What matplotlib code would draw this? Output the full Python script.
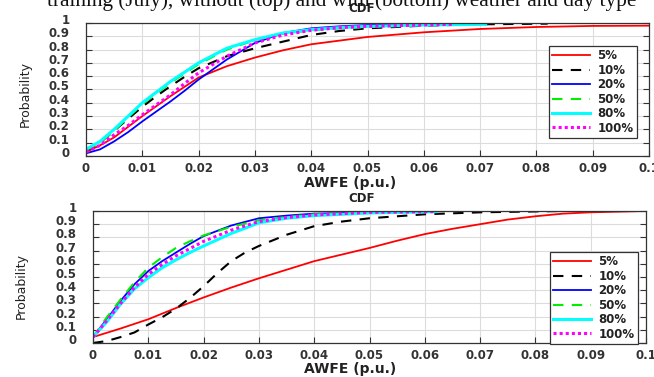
import matplotlib
matplotlib.use("Agg")
import matplotlib.pyplot as plt
from matplotlib.transforms import ScaledTranslation

labels = ["5%", "10%", "20%", "50%", "80%", "100%"]
colors = ["#ff0000", "#000000", "#0000ff", "#00ee00", "#00ffff", "#ff00ff"]

# Top panel (without weather and day type)
top_x = {
    "5%":   [0, .0025, .005, .0075, .01, .0125, .015, .0175, .02, .025, .03, .035, .04, .05, .06, .07, .08, .09, .1],
    "10%":  [0, .0025, .005, .0075, .01, .0125, .015, .0175, .02, .025, .03, .035, .04, .045, .05, .06, .07, .082],
    "20%":  [0, .0025, .005, .0075, .01, .0125, .015, .0175, .02, .025, .03, .035, .04, .045, .05, .06],
    "50%":  [0, .0025, .005, .0075, .01, .0125, .015, .0175, .02, .025, .03, .035, .04, .045, .05, .06, .07],
    "80%":  [0, .0025, .005, .0075, .01, .0125, .015, .0175, .02, .025, .03, .035, .04, .045, .05, .06, .071],
    "100%": [0, .0025, .005, .0075, .01, .0125, .015, .0175, .02, .025, .03, .035, .04, .045, .05, .065],
}
top_y = {
    "5%":   [.03, .08, .14, .22, .30, .375, .45, .52, .59, .675, .74, .795, .84, .895, .93, .955, .97, .978, .98],
    "10%":  [.04, .10, .19, .28, .37, .45, .525, .595, .66, .75, .81, .86, .91, .94, .96, .98, .99, .995],
    "20%":  [.02, .05, .11, .18, .26, .335, .41, .49, .575, .725, .85, .925, .96, .975, .985, .99],
    "50%":  [.045, .10, .19, .29, .39, .47, .55, .62, .69, .80, .87, .92, .945, .96, .97, .985, .99],
    "80%":  [.05, .11, .20, .30, .40, .48, .56, .63, .70, .81, .875, .925, .95, .965, .975, .985, .99],
    "100%": [.03, .08, .16, .23, .31, .385, .46, .545, .625, .75, .85, .91, .945, .965, .975, .99],
}

# Bottom panel (with weather and day type)
bot_x = {
    "5%":   [0, .005, .01, .015, .02, .025, .03, .035, .04, .045, .05, .055, .06, .065, .07, .075, .08, .085, .09, .1],
    "10%":  [0, .0025, .005, .0075, .01, .0125, .015, .0175, .02, .0225, .025, .0275, .03, .035, .04, .045, .05, .06, .07, .085],
    "20%":  [0, .0025, .005, .0075, .01, .0125, .015, .0175, .02, .025, .03, .035, .04, .05, .062],
    "50%":  [0, .0025, .005, .0075, .01, .0125, .015, .0175, .02, .025, .03, .035, .04, .05, .062],
    "80%":  [0, .0025, .005, .0075, .01, .0125, .015, .0175, .02, .025, .03, .035, .04, .05, .062],
    "100%": [0, .0025, .005, .0075, .01, .0125, .015, .0175, .02, .025, .03, .035, .04, .05, .062],
}
bot_y = {
    "5%":   [.045, .11, .18, .265, .345, .42, .49, .555, .62, .67, .72, .775, .825, .865, .90, .935, .96, .98, .99, 1.0],
    "10%":  [0, .015, .045, .08, .14, .195, .26, .34, .43, .53, .62, .685, .735, .82, .885, .92, .945, .975, .99, 1.0],
    "20%":  [.045, .18, .32, .445, .545, .62, .685, .75, .81, .89, .945, .965, .98, .99, 1.0],
    "50%":  [.045, .195, .33, .46, .57, .65, .72, .77, .815, .88, .93, .955, .975, .99, 1.0],
    "80%":  [.045, .16, .295, .41, .495, .57, .63, .685, .735, .83, .91, .945, .965, .985, .995],
    "100%": [.045, .17, .30, .42, .52, .595, .66, .715, .77, .855, .92, .95, .97, .99, .995],
}

xticks = [0, 0.01, 0.02, 0.03, 0.04, 0.05, 0.06, 0.07, 0.08, 0.09, 0.1]
xticklabels = ["0", "0.01", "0.02", "0.03", "0.04", "0.05", "0.06", "0.07", "0.08", "0.09", "0.1"]
yticks = [0, 0.1, 0.2, 0.3, 0.4, 0.5, 0.6, 0.7, 0.8, 0.9, 1]
yticklabels = ["0", "0.1", "0.2", "0.3", "0.4", "0.5", "0.6", "0.7", "0.8", "0.9", "1"]

styles = {
    "5%":   dict(ls="-", lw=1.3),
    "10%":  dict(ls=(0, (5, 4)), lw=1.5),
    "20%":  dict(ls="-", lw=1.3),
    "50%":  dict(ls=(0, (5, 4)), lw=1.5),
    "80%":  dict(ls="-", lw=2.2),
    "100%": dict(ls=(0, (1, 1)), lw=2.2),
}

W, H = 654, 377
fig = plt.figure(figsize=(W / 100, H / 100), dpi=100)

def px_axes(l, r, t, b):
    return fig.add_axes([l / W, 1 - b / H, (r - l) / W, (b - t) / H])

ax1 = px_axes(86, 649, 23, 156)
ax2 = px_axes(93, 646, 211, 343)

tickfont = dict(fontsize=8.5, fontweight="bold", color="#222222")

def draw(ax, xs, ys, leg_anchor):
    handles = []
    for lab, c in zip(labels, colors):
        h, = ax.plot(xs[lab], ys[lab], color=c, label=lab, solid_joinstyle="round", **styles[lab])
        handles.append(h)
    ax.set_xlim(0, 0.1)
    ax.set_ylim(0, 1)
    ax.set_xticks(xticks)
    ax.set_xticklabels(xticklabels, **tickfont)
    ax.set_yticks(yticks)
    ax.set_yticklabels(yticklabels, **tickfont)
    ax.tick_params(direction="in", length=4, width=0.8, right=True, top=False,
                   colors="#333333", pad=4)
    ax.tick_params(axis="y", pad=12)
    ax.grid(True, color="#dcdcdc", lw=0.8)
    ax.set_axisbelow(True)
    for s in ax.spines.values():
        s.set_color("#333333")
        s.set_linewidth(0.9)
    off = ScaledTranslation(0, 4 / 100, fig.dpi_scale_trans)
    for t in ax.get_yticklabels():
        t.set_transform(t.get_transform() + off)
    leg = ax.legend(handles=handles, loc="upper right", bbox_to_anchor=leg_anchor,
                    prop=dict(weight="bold", size=8.5), handlelength=3.2,
                    labelspacing=0.12, borderpad=0.3, handletextpad=0.6,
                    fancybox=False, edgecolor="#333333", framealpha=1)
    leg.get_frame().set_linewidth(0.9)
    for t in leg.get_texts():
        t.set_color("#222222")

draw(ax1, top_x, top_y, (0.989, 0.872))
draw(ax2, bot_x, bot_y, (0.996, 0.735))

lab_font = dict(fontsize=10, fontweight="bold", color="#222222")
fig.text(350 / W, 1 - 183 / H, "AWFE (p.u.)", ha="center", va="center", **lab_font)
fig.text(350 / W, 1 - 369 / H, "AWFE (p.u.)", ha="center", va="center", **lab_font)
fig.text(362 / W, 1 - 199 / H, "CDF", ha="center", va="center", fontsize=8.5, fontweight="bold", color="#222222")
fig.text(362 / W, 1 - 9 / H, "CDF", ha="center", va="center", fontsize=8.5, fontweight="bold", color="#222222")
ylab = dict(rotation=90, ha="center", va="center", fontsize=9,
            family=["Liberation Sans Narrow", "DejaVu Sans"], color="#222222")
fig.text(25 / W, 1 - 94 / H, "Probability", **ylab)
fig.text(21 / W, 1 - 286 / H, "Probability", **ylab)

fig.text(342 / W, 1 - 6 / H, "training (July), without (top) and with (bottom) weather and day type",
         ha="center", va="baseline", fontsize=15.3, family=["Liberation Serif", "DejaVu Serif"],
         color="#111111")

fig.savefig("out.png", dpi=100)
